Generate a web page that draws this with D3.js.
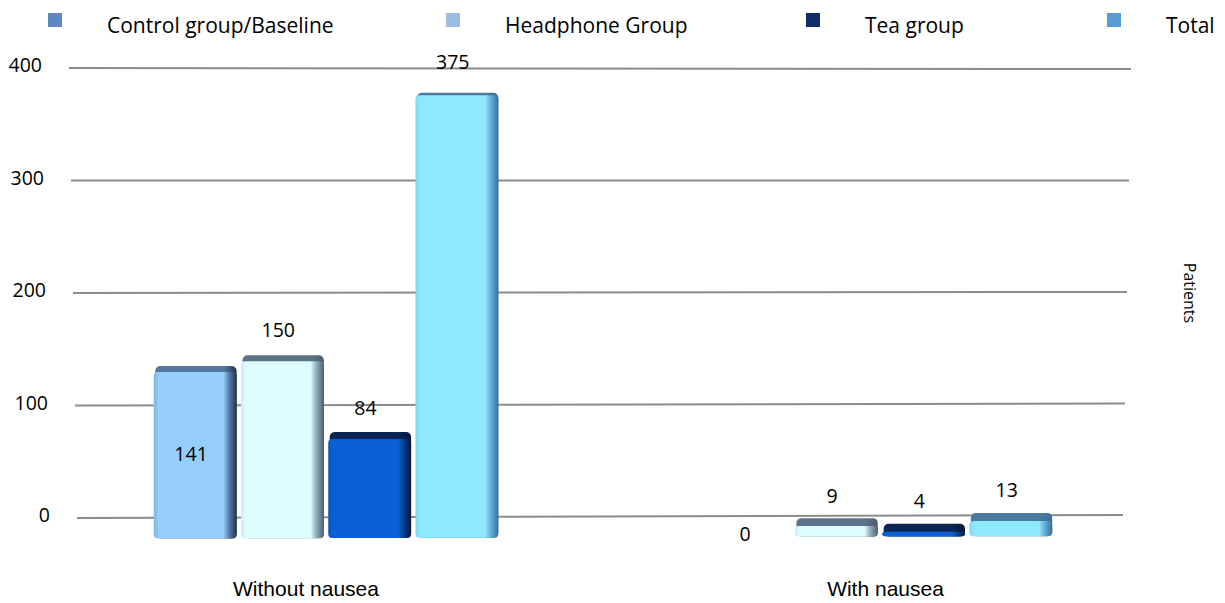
<!DOCTYPE html>
<html>
<head>
<meta charset="utf-8">
<script src="https://cdn.jsdelivr.net/npm/d3@7"></script>
<style>
  html, body { margin: 0; padding: 0; background: #ffffff; }
  svg { display: block; }
</style>
</head>
<body>
<svg id="chart" width="1225" height="603"></svg>
<script>
// Patients with and without nausea, by group
const categories = ["Without nausea", "With nausea"];
const seriesNames = ["Control group/Baseline", "Headphone Group", "Tea group", "Total"];
const controlValues = [141, 0];
const headphoneValues = [150, 9];
const teaValues = [84, 4];
const totalValues = [375, 13];
const yTicks = [0, 100, 200, 300, 400];
const yTickLabels = ["0", "100", "200", "300", "400"];
const axisTitle = "Patients";

const seriesValues = [controlValues, headphoneValues, teaValues, totalValues];

// styling per series: legend swatch, bar body, side shade, top cap
const legendColors = ["#5d87c2", "#9bbde0", "#0e2c67", "#5b9bd5"];
const barStyles = [
  { left: "#7db3ea", body: "#96cefb", edge: "#5c86b4", dark: "#223247", cap: "#56779c" },
  { left: "#c9eef5", body: "#ddfcff", edge: "#9bb6c2", dark: "#4c5e6e", cap: "#5c7389" },
  { left: "#0a56c2", body: "#0a60d6", edge: "#08459c", dark: "#05173a", cap: "#0b2653" },
  { left: "#7fd8f5", body: "#8fe8ff", edge: "#6bb6dc", dark: "#3c6f9a", cap: "#4a7aa2" }
];
const legendX = [48, 446, 806, 1107];

const svg = d3.select("#chart");
const defs = svg.append("defs");

// gradients for the shaded bar faces
barStyles.forEach((s, i) => {
  const g = defs.append("linearGradient").attr("id", "face" + i)
    .attr("x1", "0%").attr("x2", "100%").attr("y1", "0%").attr("y2", "0%");
  g.append("stop").attr("offset", "0%").attr("stop-color", s.left);
  g.append("stop").attr("offset", "6%").attr("stop-color", s.body);
  g.append("stop").attr("offset", "84%").attr("stop-color", s.body);
  g.append("stop").attr("offset", "90%").attr("stop-color", s.edge);
  g.append("stop").attr("offset", "100%").attr("stop-color", s.dark);
  const c = defs.append("linearGradient").attr("id", "cap" + i)
    .attr("x1", "0%").attr("x2", "100%").attr("y1", "0%").attr("y2", "0%");
  c.append("stop").attr("offset", "0%").attr("stop-color", s.cap);
  c.append("stop").attr("offset", "85%").attr("stop-color", s.cap);
  c.append("stop").attr("offset", "100%").attr("stop-color", s.dark);
});

// back wall gridlines (slightly tilted plane)
const yLeft = d3.scaleLinear().domain([0, 400]).range([518, 68]);
const yRight = d3.scaleLinear().domain([0, 400]).range([515, 69]);
const xLeftEdge = d3.scaleLinear().domain([0, 400]).range([77, 69]);
const xRightEdge = d3.scaleLinear().domain([0, 400]).range([1123, 1131]);

svg.append("g").selectAll("line").data(yTicks).join("line")
  .attr("x1", d => xLeftEdge(d)).attr("y1", d => yLeft(d))
  .attr("x2", d => xRightEdge(d)).attr("y2", d => yRight(d))
  .attr("stroke", "#8c8c8c").attr("stroke-width", 2);

svg.append("g").selectAll("text").data(yTicks).join("text")
  .attr("x", d => xLeftEdge(d) - 27).attr("y", d => yLeft(d) + 4)
  .attr("text-anchor", "end")
  .attr("font-family", "Open Sans, sans-serif").attr("font-size", 19.5)
  .attr("fill", "#000")
  .text((d, i) => yTickLabels[i]);

// bar positions in the front plane
const x0 = d3.scaleBand().domain(categories)
  .range([43, 1163]).paddingInner(0.378).paddingOuter(0.2);
const x1 = d3.scaleBand().domain(seriesNames)
  .range([0, x0.bandwidth()]).paddingInner(0.05);
const barHeight = d3.scaleLinear().domain([0, 400]).range([0, 472]);
const floorY = d3.scaleLinear().domain([153, 1050]).range([538.5, 536]);
const capDepth = d3.scaleLinear().domain([90, 530]).range([2.5, 8]).clamp(true);
const labelLift = d3.scaleLinear().domain([90, 520]).range([24, 15.5]).clamp(true);

const bars = [];
categories.forEach((cat, ci) => {
  seriesNames.forEach((name, si) => {
    const v = seriesValues[si][ci];
    const x = x0(cat) + x1(name);
    const w = x1.bandwidth();
    const base = floorY(x);
    const front = base - barHeight(v);
    const cap = front - capDepth(front);
    bars.push({ cat, name, si, ci, v, x, w, base, front, cap });
  });
});

const barG = svg.append("g");
bars.filter(b => b.v > 0).forEach(b => {
  // top cap seen from above
  barG.append("rect")
    .attr("x", b.x + 1.5).attr("y", b.cap)
    .attr("width", b.w - 1.5).attr("height", b.base - b.cap)
    .attr("rx", 5).attr("ry", 5)
    .attr("fill", `url(#cap${b.si})`);
  // front face
  barG.append("rect")
    .attr("x", b.x).attr("y", b.front)
    .attr("width", b.w).attr("height", b.base - b.front)
    .attr("rx", 4).attr("ry", 4)
    .attr("fill", `url(#face${b.si})`);
});

// value labels
svg.append("g").selectAll("text").data(bars).join("text")
  .attr("x", b => b.x + b.w * 0.45)
  .attr("y", b => {
    if (b.v === 0) return b.base + 4;
    if (b.si === 0) return (b.front + b.base) / 2 + 6;
    return b.cap - labelLift(b.cap);
  })
  .attr("text-anchor", "middle")
  .attr("font-family", "Open Sans, sans-serif").attr("font-size", 19.5)
  .attr("fill", "#000")
  .text(b => b.v);

// category labels on the floor
const floorX = d3.scalePoint().domain(categories).range([306, 885.5]);
svg.append("g").selectAll("text").data(categories).join("text")
  .attr("x", d => floorX(d)).attr("y", 596)
  .attr("text-anchor", "middle")
  .attr("font-family", "Liberation Sans, Arial, sans-serif").attr("font-size", 21)
  .attr("fill", "#000")
  .text(d => d);

// legend
const leg = svg.append("g").selectAll("g").data(seriesNames).join("g")
  .attr("transform", (d, i) => `translate(${legendX[i]},0)`);
leg.append("rect").attr("x", 0).attr("y", 13).attr("width", 14).attr("height", 14)
  .attr("fill", (d, i) => legendColors[i]);
leg.append("text").attr("x", 59).attr("y", 33)
  .attr("font-family", "Open Sans, sans-serif").attr("font-size", 21)
  .attr("fill", "#000")
  .text(d => d);

// axis title, rotated
svg.append("text")
  .attr("transform", "translate(1184,293) rotate(90)")
  .attr("text-anchor", "middle")
  .attr("font-family", "Open Sans, sans-serif").attr("font-size", 16)
  .attr("fill", "#000")
  .text(axisTitle);
</script>
</body>
</html>
